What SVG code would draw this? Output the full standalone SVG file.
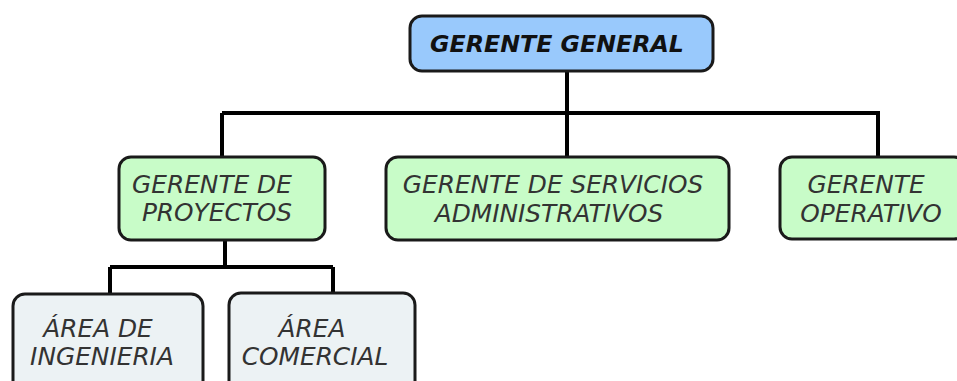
<svg xmlns="http://www.w3.org/2000/svg" width="957" height="381" viewBox="0 0 957 381">
<style>
.box{stroke:#1a1a1a;stroke-width:3}
.blue{fill:#99c9fc}
.green{fill:#c8fcc8}
.gray{fill:#ecf2f4}
.t{font-family:"DejaVu Sans",Verdana,sans-serif;font-style:italic;font-size:24.8px;fill:#333;text-anchor:middle}
.b{font-weight:bold;fill:#111;font-size:23.7px}
.c{stroke:#000;stroke-width:4;fill:none}
</style>
<rect width="957" height="381" fill="#fff"/>
<g id="connectors">
<path class="c" d="M567 71V113M222 113H880M222 113V157M567 113V157M878 113V157"/>
<path class="c" d="M225 240V267M110 267H333M110 267V294M333 267V294"/>
</g>
<g id="gerente-general">
<rect class="box blue" x="410" y="16" width="303" height="55" rx="12"/>
<text class="t b" x="557" y="52">GERENTE GENERAL</text>
</g>
<g id="gerente-proyectos">
<rect class="box green" x="119" y="157" width="206" height="83" rx="12"/>
<text class="t" x="212" y="193">GERENTE DE</text>
<text class="t" x="217" y="221">PROYECTOS</text>
</g>
<g id="gerente-servicios">
<rect class="box green" x="386" y="157" width="343" height="83" rx="12"/>
<text class="t" x="553" y="193">GERENTE DE SERVICIOS</text>
<text class="t" x="549" y="222">ADMINISTRATIVOS</text>
</g>
<g id="gerente-operativo">
<rect class="box green" x="780" y="157" width="186" height="82" rx="12"/>
<text class="t" x="866" y="193">GERENTE</text>
<text class="t" x="871" y="222">OPERATIVO</text>
</g>
<g id="area-ingenieria">
<rect class="box gray" x="13" y="294" width="190" height="110" rx="12"/>
<text class="t" x="98" y="337">ÁREA DE</text>
<text class="t" x="102" y="365">INGENIERIA</text>
</g>
<g id="area-comercial">
<rect class="box gray" x="229" y="293" width="186" height="110" rx="12"/>
<text class="t" x="312" y="337">ÁREA</text>
<text class="t" x="315" y="365">COMERCIAL</text>
</g>
</svg>
